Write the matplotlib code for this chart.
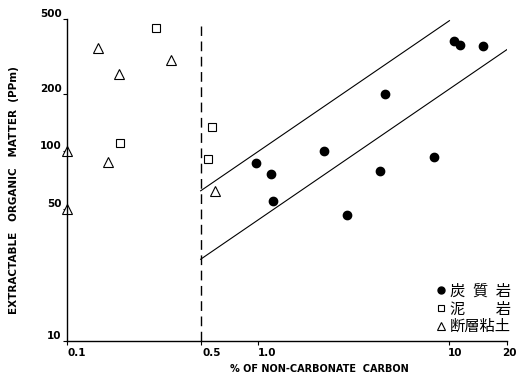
import matplotlib
matplotlib.use("Agg")
import matplotlib.pyplot as plt
import matplotlib.transforms as mtransforms
from matplotlib.lines import Line2D

# carbonaceous rock (filled circles)
coal_x = [0.968, 1.17, 1.20, 2.22, 2.93, 4.32, 4.62, 8.27, 10.6, 11.3, 15.0]
coal_y = [87, 76, 55, 101, 46, 79, 201, 94, 384, 366, 358]
# mudstone (open squares)
mud_x = [0.190, 0.293, 0.547, 0.573]
mud_y = [111, 446, 91, 134]
# fault clay (open triangles)
clay_x = [0.1, 0.1, 0.145, 0.164, 0.186, 0.351, 0.596]
clay_y = [100, 50, 351, 88, 255, 305, 62]

# envelope lines
upper_x = [0.5, 10.0]
upper_y = [62, 490]
lower_x = [0.5, 20.0]
lower_y = [27, 345]

xticks = [0.1, 0.5, 1.0, 10, 20]
xticklabels = ["0.1", "0.5", "1.0", "10", "20"]
yticks = [10, 50, 100, 200, 500]
yticklabels = ["10", "50", "100", "200", "500"]

labels = ["炭\u2002質\u2002岩", "泥\u3000\u3000岩", "断層粘土"]

fig = plt.figure(figsize=(5.18, 3.85), dpi=100)
ax = fig.add_axes([67 / 518, 44 / 385, 440 / 518, 322 / 385])
ax.set_xscale("log")
ax.set_yscale("log")
ax.set_xlim(0.1, 20)
ax.set_ylim(10, 500)

ax.plot(upper_x, upper_y, color="black", lw=0.8)
ax.plot(lower_x, lower_y, color="black", lw=0.8)
ax.plot([0.5, 0.5], [10, 460], color="black", lw=1.0, dashes=(7, 4))

ax.plot(coal_x, coal_y, "o", color="black", ms=6, clip_on=False)
ax.plot(mud_x, mud_y, "s", mfc="white", mec="black", mew=0.8, ms=6, clip_on=False)
ax.plot(clay_x, clay_y, "^", mfc="white", mec="black", mew=0.8, ms=7, clip_on=False)

for s in ["top", "right"]:
    ax.spines[s].set_visible(False)
ax.spines["left"].set_linewidth(1.0)
ax.spines["bottom"].set_linewidth(1.0)

ax.minorticks_off()
ax.set_xticks(xticks)
ax.set_xticklabels(xticklabels, fontsize=7.5, fontweight="bold")
ax.set_yticks(yticks)
ax.set_yticklabels(yticklabels, fontsize=7.5, fontweight="bold", va="bottom")
ax.tick_params(axis="both", direction="out", length=3, width=0.8, pad=2)
ax.tick_params(axis="y", pad=1)

# x tick labels sit a little to the right of their ticks
shifts = [10, 11, 9, 6, 2]
for lab, dx in zip(ax.get_xticklabels(), shifts):
    lab.set_transform(lab.get_transform() +
                      mtransforms.ScaledTranslation(dx / 100, 0, fig.dpi_scale_trans))

ax.set_xlabel("% OF NON-CARBONATE  CARBON", fontsize=7, fontweight="bold")
ax.xaxis.set_label_coords((319 - 67) / 440, -0.072)
ax.set_ylabel("EXTRACTABLE   ORGANIC   MATTER  (PPm)", fontsize=7.5, fontweight="bold")
ax.yaxis.set_label_coords(-0.11, 0.47)

handles = [
    Line2D([], [], marker="o", ls="", color="black", ms=5),
    Line2D([], [], marker="s", ls="", mfc="white", mec="black", mew=0.8, ms=5),
    Line2D([], [], marker="^", ls="", mfc="white", mec="black", mew=0.8, ms=6),
]
leg = ax.legend(handles, labels, loc="lower right", bbox_to_anchor=(1.04, -0.025),
                frameon=False, handlelength=0.6, handletextpad=0.25, labelspacing=0.05,
                prop={"family": ["Noto Sans CJK JP", "DejaVu Sans"], "size": 11})

fig.savefig("out.png", dpi=100)
